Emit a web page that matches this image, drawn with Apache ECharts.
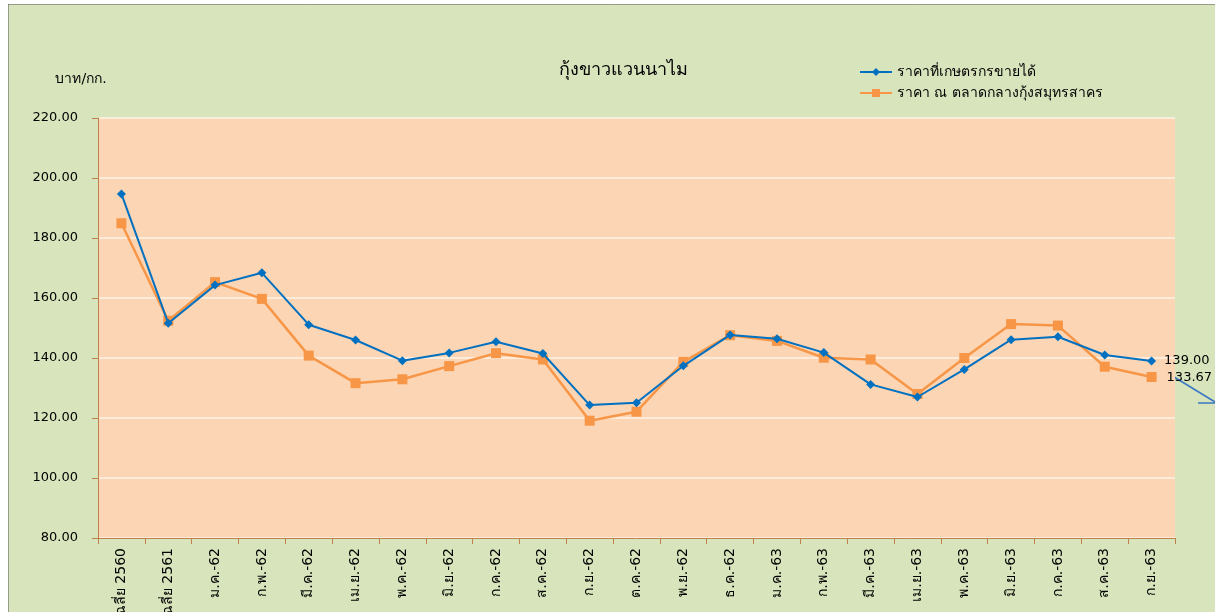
<!DOCTYPE html>
<html>
<head>
<meta charset="utf-8">
<script src="https://cdn.jsdelivr.net/npm/echarts@6/dist/echarts.min.js"></script>
<style>
    html, body { margin: 0; padding: 0; background: #ffffff; }
    #container_shrimp { position: absolute; left: 8px; top: 4px; width: 1207px; height: 608px; }
</style>
</head>
<body>
<div id="container_shrimp"></div>
<script>
// months / series
var months = ['เฉลี่ย 2560', 'เฉลี่ย 2561', 'ม.ค.-62', 'ก.พ.-62', 'มี.ค.-62', 'เม.ย.-62', 'พ.ค.-62',
    'มิ.ย.-62', 'ก.ค.-62', 'ส.ค.-62', 'ก.ย.-62', 'ต.ค.-62', 'พ.ย.-62', 'ธ.ค.-62', 'ม.ค.-63',
    'ก.พ.-63', 'มี.ค.-63', 'เม.ย.-63', 'พ.ค.-63', 'มิ.ย.-63', 'ก.ค.-63', 'ส.ค.-63', 'ก.ย.-63'];
var farmPrice = [194.7, 151.6, 164.3, 168.4, 151.1, 146.0, 139.1, 141.7, 145.4, 141.5, 124.3, 125.1,
    137.4, 147.7, 146.4, 141.8, 131.2, 127.0, 136.2, 146.1, 147.1, 141.0, 139.00];
var marketPrice = [184.9, 152.4, 165.3, 159.7, 140.8, 131.6, 132.9, 137.3, 141.6, 139.5, 119.1, 122.1,
    138.7, 147.6, 145.7, 140.1, 139.5, 128.0, 140.0, 151.3, 150.8, 137.1, 133.67];
var seriesNames = ['ราคาที่เกษตรกรขายได้', 'ราคา ณ ตลาดกลางกุ้งสมุทรสาคร'];

var txtFont = 'DejaVu Sans, Noto Sans, sans-serif';

var shrimp_chart = echarts.init(document.getElementById('container_shrimp'));

function lastLabel(arr) {
    // only the last point carries a value label
    return arr.map(function (v, i) {
        if (i === arr.length - 1) {
            return { value: v, label: { show: true } };
        }
        return v;
    });
}

var option_shrimp = {
    backgroundColor: '#D8E4BC',
    animation: false,
    title: {
        text: 'กุ้งขาวแวนนาไม',
        left: 546,
        top: 52,
        textStyle: { fontFamily: txtFont, fontSize: 18, fontWeight: 'normal', color: '#000' }
    },
    legend: {
        orient: 'vertical',
        left: 846,
        top: 56,
        itemGap: 7,
        itemWidth: 32,
        itemHeight: 10,
        textStyle: { fontFamily: txtFont, fontSize: 14, color: '#000' },
        data: seriesNames
    },
    grid: { left: 90, right: 40, top: 114, bottom: 74, containLabel: false, outerBoundsMode: 'none' },
    xAxis: {
        type: 'category',
        data: months,
        boundaryGap: true,
        axisLine: { lineStyle: { color: '#C0804D', width: 1 } },
        axisTick: { show: true, length: 6, lineStyle: { color: '#C0804D' } },
        axisLabel: {
            rotate: 90, interval: 0, margin: 10,
            fontFamily: txtFont, fontSize: 14, color: '#000'
        }
    },
    yAxis: {
        type: 'value',
        min: 80,
        max: 220,
        interval: 20,
        name: 'บาท/กก.',
        nameLocation: 'end',
        nameGap: 32,
        nameTextStyle: { fontFamily: txtFont, fontSize: 14, color: '#000', align: 'center', padding: [0, 0, 0, -34] },
        axisLine: { show: true, lineStyle: { color: '#C0804D', width: 1 } },
        axisTick: { show: true, length: 6, lineStyle: { color: '#C0804D' } },
        axisLabel: {
            margin: 20, fontFamily: txtFont, fontSize: 13, color: '#000',
            formatter: function (v) { return v.toFixed(2); }
        },
        splitLine: { lineStyle: { color: '#FFF2E6', width: 1.5 } },
        splitArea: { show: true, areaStyle: { color: ['#FCD5B4', '#FCD5B4'] } }
    },
    series: [
        {
            name: seriesNames[0],
            type: 'line',
            data: lastLabel(farmPrice),
            symbol: 'diamond',
            symbolSize: 9,
            color: '#0070C0',
            lineStyle: { width: 2, color: '#0070C0' },
            itemStyle: { color: '#0070C0' },
            label: {
                show: false, position: 'right', distance: 8,
                fontFamily: txtFont, fontSize: 13, color: '#000',
                formatter: function (p) { return p.value.toFixed(2); }
            },
            z: 3
        },
        {
            name: seriesNames[1],
            type: 'line',
            data: lastLabel(marketPrice),
            symbol: 'rect',
            symbolSize: 10,
            color: '#F79646',
            lineStyle: { width: 2.5, color: '#F79646' },
            itemStyle: { color: '#F79646' },
            label: {
                show: false, position: 'right', distance: 10, offset: [0, 1],
                fontFamily: txtFont, fontSize: 13, color: '#000',
                formatter: function (p) { return p.value.toFixed(2); }
            },
            z: 2
        }
    ],
    graphic: [
        // frame of the chart area and the stray arrow on the right
        { type: 'line', shape: { x1: 0, y1: 0, x2: 1207, y2: 0 }, style: { stroke: '#555', lineWidth: 1 } },
        { type: 'line', shape: { x1: 0, y1: 0, x2: 0, y2: 608 }, style: { stroke: '#555', lineWidth: 1 } },
        { type: 'polyline', shape: { points: [[1140, 357], [1207, 398]] }, style: { stroke: '#3A78C3', lineWidth: 1.5 } },
        { type: 'line', shape: { x1: 1190, y1: 399, x2: 1207, y2: 399 }, style: { stroke: '#3A78C3', lineWidth: 1.5 } }
    ]
};

shrimp_chart.setOption(option_shrimp);
</script>
</body>
</html>
